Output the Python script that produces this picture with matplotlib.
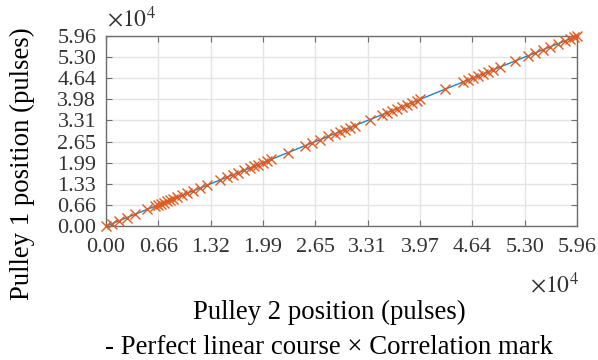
import matplotlib
matplotlib.use("Agg")
import matplotlib.pyplot as plt
from matplotlib.ticker import FixedLocator, FixedFormatter

plt.rcParams['font.family'] = ['Liberation Serif', 'DejaVu Serif']
plt.rcParams['mathtext.fontset'] = 'stix'

# Data (pulses)
line_x = [0, 59600]
line_y = [0, 59600]
mark_x = [0, 759, 1645, 2657, 3670, 5188, 6200, 6580, 6960, 7340, 7720, 8100, 8480,
          8984, 9617, 10250, 11009, 11895, 12780, 14425, 15311, 16070, 16703, 17462,
          18221, 18727, 19233, 19866, 20373, 20879, 23030, 25181, 26067, 27080, 28092,
          28978, 29610, 30243, 30876, 31509, 33407, 34925, 35558, 36191, 36824, 37457,
          38090, 38723, 39356, 39736, 42899, 45177, 45810, 46442, 47075, 47708, 48341,
          48974, 49860, 51758, 53403, 54289, 55301, 56187, 57199, 58085, 58718, 59224, 59600]
mark_y = [0, 759, 1645, 2657, 3670, 5188, 6200, 6580, 6960, 7340, 7720, 8100, 8480,
          8984, 9617, 10250, 11009, 11895, 12780, 14425, 15311, 16070, 16703, 17462,
          18221, 18727, 19233, 19866, 20373, 20879, 23030, 25181, 26067, 27080, 28092,
          28978, 29610, 30243, 30876, 31509, 33407, 34925, 35558, 36191, 36824, 37457,
          38090, 38723, 39356, 39736, 42899, 45177, 45810, 46442, 47075, 47708, 48341,
          48974, 49860, 51758, 53403, 54289, 55301, 56187, 57199, 58085, 58718, 59224, 59600]
tick_vals = [0, 6622, 13244, 19867, 26489, 33111, 39733, 46356, 52978, 59600]
xtick_labels = ["0.00", "0.66", "1.32", "1.99", "2.65", "3.31", "3.97", "4.64", "5.30", "5.96"]
ytick_labels = ["0.00", "0.66", "1.33", "1.99", "2.65", "3.31", "3.98", "4.64", "5.30", "5.96"]

fig = plt.figure(figsize=(5.98, 3.6), dpi=100)
ax = fig.add_axes([106/598, 1-226/360, (577-106)/598, (226-36)/360])

ax.plot(line_x, line_y, color='#1f82c8', lw=1.0, zorder=2)
ax.plot(mark_x, mark_y, ls='none', marker='x', color='#DE5B22', ms=7.5, mew=1.0, zorder=3, clip_on=False)

ax.set_xlim(0, 59600)
ax.set_ylim(0, 59600)
ax.xaxis.set_major_locator(FixedLocator(tick_vals))
ax.xaxis.set_major_formatter(FixedFormatter(xtick_labels))
ax.yaxis.set_major_locator(FixedLocator(tick_vals))
ax.yaxis.set_major_formatter(FixedFormatter(ytick_labels))
ax.grid(True, color='#e4e4e4', lw=1.0)
ax.set_axisbelow(True)
for s in ax.spines.values():
    s.set_color('#6e6e6e')
    s.set_linewidth(1.0)
ax.tick_params(direction='in', top=True, right=True, length=4, color='#6e6e6e',
               labelsize=16, labelcolor='#333333')
ax.tick_params(axis='x', pad=9)
ax.tick_params(axis='y', pad=7)

fig.text(329/598, 1-312/360, "Pulley 2 position (pulses)", fontsize=19.3, ha='center', va='center')
fig.text(22/598, 1-164/360, "Pulley 1 position (pulses)", fontsize=19.3, ha='center', va='center',
         rotation=90)

fig.text(107/598, 1-19/360, r"$\times10^4$", fontsize=17, color='#333333', va='center', ha='left')
fig.text(579/598, 1-285/360, r"$\times10^4$", fontsize=17, color='#333333', va='center', ha='right')
fig.text(329/598, 1-347/360, "- Perfect linear course × Correlation mark", fontsize=19.3,
         ha='center', va='center')

fig.savefig("out.png", dpi=100)
